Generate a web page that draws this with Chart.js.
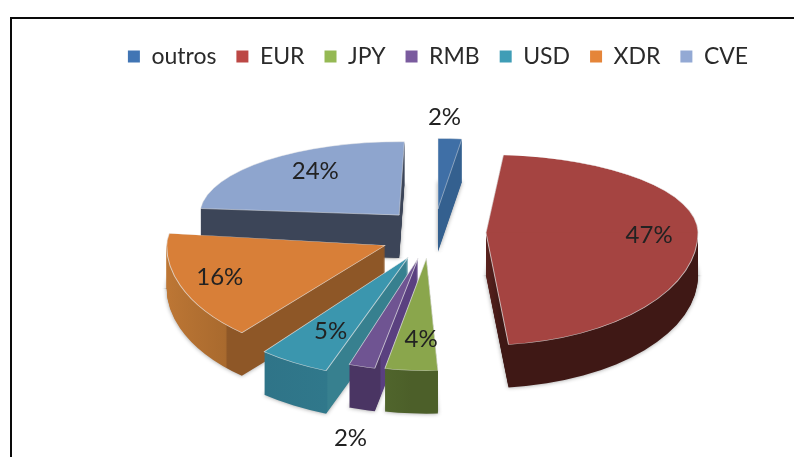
<!DOCTYPE html>
<html><head><meta charset="utf-8">
<style>html,body{margin:0;padding:0;background:#fff}canvas{display:block;filter:blur(.45px)}</style>
<script src="https://cdn.jsdelivr.net/npm/chart.js@4"></script>
</head><body><canvas id="c" width="794" height="457"></canvas>
<script>
const categories = ['outros','EUR','JPY','RMB','USD','XDR','CVE'];
const shares = [2,47,4,2,5,16,24];
const topColors = ['#3F6FA6','#A54441','#8AA64C','#6F5492','#3B96AE','#D87F38','#8EA5CE'];
const legendColors = ['#4175B4','#BC4845','#95B954','#7A5B9E','#3F9DB6','#E58539','#93A9D4'];
const wallLeft = ['#34608F','#5A221E','#50652C','#4A3563','#2F7488','#BE7735','#3C4558'];
const wallMid = ['#34608F','#3F1815','#4C5F29','#4A3563','#30788B','#A96A2E','#3C4558'];
const wallRight = ['#34608F','#3F1815','#4C5F29','#5A4080','#37808F','#8E5727','#3C4558'];
const wallSplit = [.5,.6,.5,.5,.5,.35,.5];
const explode = [41,58,43,44,46,48,41];
const explodeTilt = [12,0,0,0,0,0,0];
const sliceSpin = [1.5,-1,2,2.5,4.5,6.5,3];
const sliceReach = [.9,1,1,1,1.08,1.03,.94];
const labelBearing = [1.5,92,182,191.3,209,250,325];
const labelReach = [1.17,.77,.72,1.63,.754,.83,.69];
const startRotation = -1.5;
const backFlat = .368, frontFlat = .53, tiltFlat = .6, depth = 43;
const centerShiftX = -10, centerShiftY = -29;

const rad = d => d*Math.PI/180;
function layout(chart){
  const meta = chart.getDatasetMeta(0);
  return meta.data.map((arc,i)=>{
    const p = arc.getProps(['x','y','startAngle','endAngle','outerRadius']);
    const mid = (p.startAngle+p.endAngle)/2;
    const dir = mid + rad(explodeTilt[i]);
    return {i,arc,p,mid,
      tx:p.x+centerShiftX+Math.cos(dir)*explode[i],
      ty:p.y+centerShiftY+Math.sin(dir)*explode[i]*tiltFlat};
  });
}
function paint(ctx,s,opts,dy,W,H){
  const saved = s.arc.options;
  const o = Object.create(saved); Object.assign(o,opts);
  s.arc.options = o;
  const y = s.ty+dy;
  [[0,y+.5,backFlat],[y-.5,H,frontFlat]].forEach(([a,b,f])=>{
    ctx.save();
    ctx.beginPath(); ctx.rect(0,a,W,b-a); ctx.clip();
    ctx.translate(s.tx,y); ctx.scale(1,f);
    ctx.rotate(rad(sliceSpin[s.i])); ctx.scale(sliceReach[s.i],sliceReach[s.i]);
    ctx.translate(-s.p.x,-s.p.y);
    s.arc.draw(ctx);
    ctx.restore();
  });
  s.arc.options = saved;
}
const pie3d = {
  id:'pie3d',
  beforeDraw(chart){
    const {ctx,width,height} = chart;
    ctx.save();
    ctx.fillStyle='#fff'; ctx.fillRect(0,0,width,height);
    ctx.strokeStyle='#0a0a0a'; ctx.lineWidth=2;
    ctx.beginPath(); ctx.moveTo(11,height); ctx.lineTo(11,18); ctx.lineTo(width,18); ctx.stroke();
    ctx.restore();
  },
  beforeDatasetDraw(chart){
    const {ctx,width:W,height:H} = chart;
    const slices = layout(chart).sort((a,b)=>Math.sin(a.mid)-Math.sin(b.mid));
    slices.forEach(s=>{
      const R = s.p.outerRadius;
      const xs=[s.tx,s.tx+Math.cos(s.p.startAngle)*R,s.tx+Math.cos(s.p.endAngle)*R];
      const x0=Math.min(...xs), x1=Math.max(...xs);
      const g=ctx.createLinearGradient(x0-s.tx+s.p.x,0,x1-s.tx+s.p.x,0);
      g.addColorStop(0,wallLeft[s.i]);
      g.addColorStop(wallSplit[s.i],wallMid[s.i]);
      g.addColorStop(Math.min(1,wallSplit[s.i]+.01),wallRight[s.i]);
      g.addColorStop(1,wallRight[s.i]);
      ctx.save();
      ctx.shadowColor='rgba(0,0,0,.4)'; ctx.shadowBlur=4;
      paint(ctx,s,{backgroundColor:g,borderWidth:0},depth,W,H);
      ctx.restore();
      for(let d=depth-1;d>0;d--) paint(ctx,s,{backgroundColor:g,borderWidth:0},d,W,H);
      paint(ctx,s,{backgroundColor:topColors[s.i],borderWidth:1,borderColor:'rgba(232,232,232,.75)'},0,W,H);
    });
    return false;
  },
  afterDatasetsDraw(chart){
    const {ctx} = chart;
    ctx.save();
    ctx.font='24px Lato'; ctx.fillStyle='#222'; ctx.textAlign='center'; ctx.textBaseline='middle';
    layout(chart).forEach(s=>{
      const b=rad(labelBearing[s.i]), R=s.p.outerRadius;
      const up=Math.cos(b)>0;
      const x=s.tx+Math.sin(b)*R*labelReach[s.i];
      const y=s.ty-Math.cos(b)*R*(up?backFlat:frontFlat)*labelReach[s.i];
      ctx.fillText(shares[s.i]+'%',x,y);
    });
    ctx.restore();
  }
};
new Chart(document.getElementById('c'),{
  type:'pie',
  data:{labels:categories,datasets:[{data:shares,backgroundColor:legendColors,borderWidth:0}]},
  options:{
    responsive:false,animation:false,rotation:startRotation,radius:212,
    layout:{padding:{top:25,left:82,right:0,bottom:12}},
    plugins:{
      tooltip:{enabled:false},
      legend:{position:'top',labels:{boxWidth:12,boxHeight:12,padding:20,color:'#2a2a2a',font:{family:'Lato',size:23}}}
    }
  },
  plugins:[pie3d]
});
</script></body></html>
